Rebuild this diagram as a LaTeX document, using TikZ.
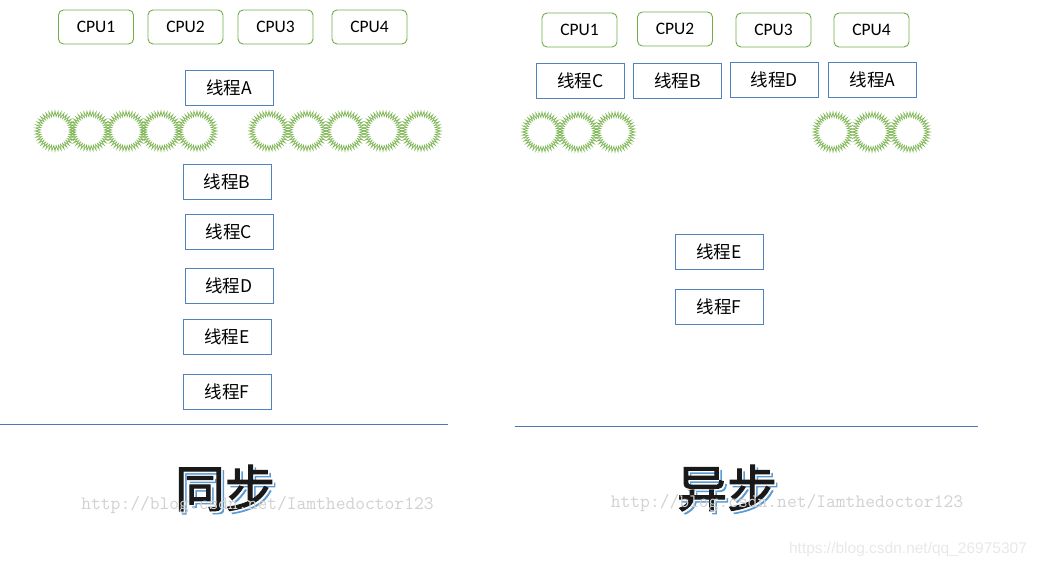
\documentclass[tikz,border=0pt]{standalone}
\usepackage{fontspec}
\setmainfont{Carlito}
\newfontfamily\cjkfont{Noto Sans CJK SC}
\newfontfamily\cjkbig[FakeBold=2]{Noto Sans CJK SC}
\newfontfamily\cpufont{Carlito}
\newfontfamily\wmsans{Liberation Sans}
\definecolor{cpugreen}{HTML}{70AD47}
\definecolor{gearg}{HTML}{7DB553}
\definecolor{thrblue}{HTML}{5082BE}
\definecolor{lineblue}{HTML}{4F74B8}
\definecolor{shadowblue}{HTML}{5B9BD5}
\tikzset{
  cpubox/.style={draw=cpugreen, rounded corners=5pt, line width=0.9pt, minimum width=75pt, minimum height=34pt, inner sep=0pt, font=\cpufont\fontsize{17.5}{17.5}\selectfont},
  thrbox/.style={draw=thrblue, line width=0.9pt, minimum width=88pt, minimum height=35pt, inner sep=0pt, font=\cjkfont\fontsize{17.5}{18}\selectfont},
  gear/.style={draw=gearg, line width=0.65pt, line join=miter},
  sepline/.style={draw=lineblue, line width=0.8pt},
  bigtxt/.style={font=\cjkbig\fontsize{50}{50}\selectfont, inner sep=0pt},
  wmark/.style={font=\ttfamily\fontsize{19}{19}\selectfont, text=black!18, inner sep=0pt},
  wmark2/.style={font=\wmsans\fontsize{15.5}{15.5}\selectfont, text=black!9, inner sep=0pt}
}
\begin{document}
\begin{tikzpicture}[x=1pt,y=-1pt]
\useasboundingbox (0,0) rectangle (1039,567);
% ---------- left: synchronous ----------
\node[cpubox] (lc1) at (96,27) {CPU1};
\node[cpubox] (lc2) at (185.5,27) {CPU2};
\node[cpubox] (lc3) at (275.5,27) {CPU3};
\node[cpubox] (lc4) at (369.5,27) {CPU4};
\node[thrbox] (la) at (229,88) {线程A};
\node[thrbox] (lb) at (227,181.5) {线程B};
\node[thrbox] (lcc) at (229,231.5) {线程C};
\node[thrbox] (ld) at (229,285.5) {线程D};
\node[thrbox] (le) at (227,336.5) {线程E};
\node[thrbox] (lf) at (227,391.5) {线程F};
\foreach \cx in {55,90,126,161,197,269,307,345,383,421}{
  \draw[gear, shift={(\cx,131)}] plot[samples=81, domain=0:80, variable=\n] ({\n*4.5}:{17.3+2.8*(1-2*mod(round(\n),2))}) -- cycle;
}
\coordinate (ll1) at (0,424);
\coordinate (ll2) at (448,424);
\draw[sepline] (ll1) -- (ll2);
\node[bigtxt, text=shadowblue] at (228,491) {同步};
\node[bigtxt, text=white] at (226.5,489.5) {同步};
\node[bigtxt, text=black!90] (tsync) at (225,488) {同步};
\node[wmark] (wm1) at (257.5,505) {http://blog.csdn.net/Iamthedoctor123};
% ---------- right: asynchronous ----------
\node[cpubox] (rc1) at (579.5,30) {CPU1};
\node[cpubox] (rc2) at (675,29) {CPU2};
\node[cpubox] (rc3) at (773.5,30) {CPU3};
\node[cpubox] (rc4) at (871.5,30) {CPU4};
\node[thrbox] (rcc) at (580.5,80.5) {线程C};
\node[thrbox] (rb) at (677.5,80.5) {线程B};
\node[thrbox] (rd) at (774.5,79.5) {线程D};
\node[thrbox] (ra) at (872.5,79.5) {线程A};
\node[thrbox] (re) at (719,251.5) {线程E};
\node[thrbox] (rf) at (719,306.5) {线程F};
\foreach \cx in {542,578,615,833,872,910}{
  \draw[gear, shift={(\cx,132)}] plot[samples=81, domain=0:80, variable=\n] ({\n*4.5}:{17.3+2.8*(1-2*mod(round(\n),2))}) -- cycle;
}
\coordinate (rl1) at (515,426);
\coordinate (rl2) at (978,426);
\draw[sepline] (rl1) -- (rl2);
\node[bigtxt, text=shadowblue] at (730,491) {异步};
\node[bigtxt, text=white] at (728.5,489.5) {异步};
\node[bigtxt, text=black!90] (tasync) at (727,488) {异步};
\node[wmark] (wm2) at (787,503) {http://blog.csdn.net/Iamthedoctor123};
\node[wmark2] (wm3) at (908,549) {https://blog.csdn.net/qq\_26975307};
\end{tikzpicture}
\end{document}
